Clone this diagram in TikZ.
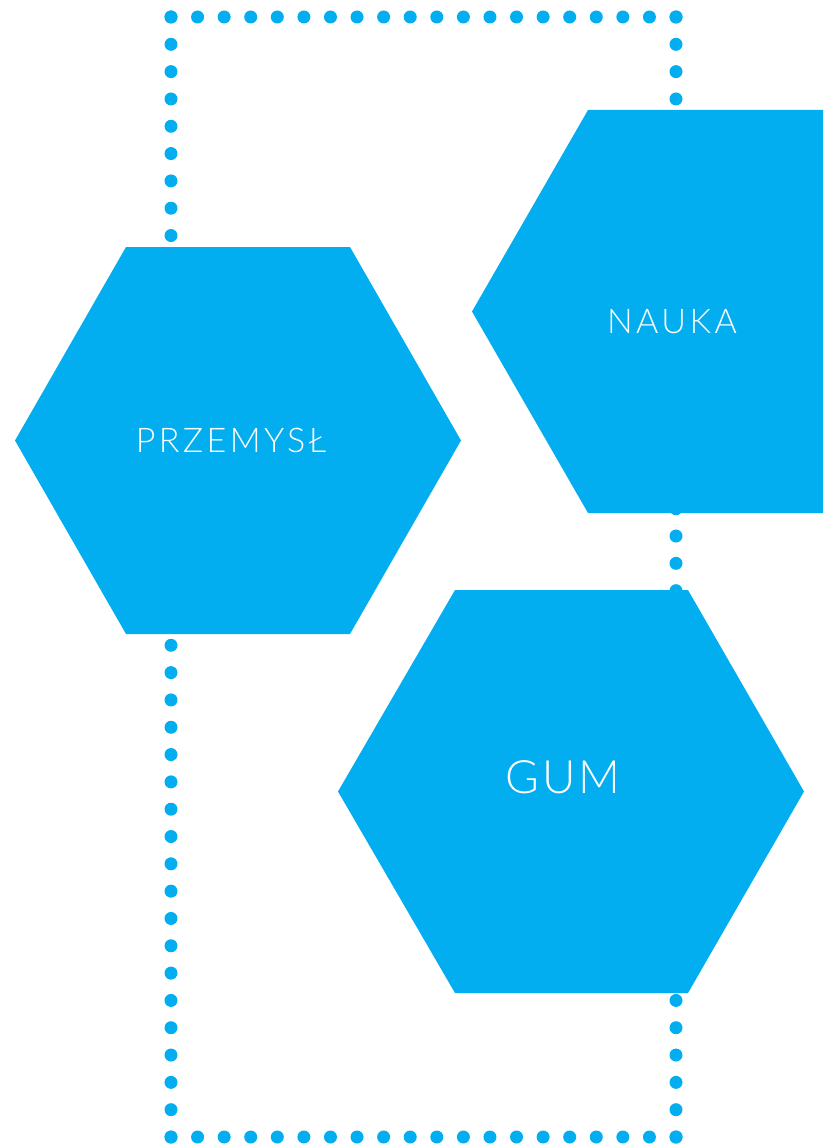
\documentclass[tikz,border=0pt]{standalone}
\usepackage{fontspec}
\newfontfamily\latolight{Lato Light}
\definecolor{hexblue}{RGB}{2,174,239}
\tikzset{
  hexfill/.style={fill=hexblue, draw=none},
  framedot/.style={fill=hexblue},
  hexlabel/.style={text=white, inner sep=0pt, anchor=base},
}
\begin{document}
\begin{tikzpicture}[x=1pt, y=-1pt]
  \useasboundingbox (0,0) rectangle (823,1145);
  \clip (0,0) rectangle (823,1145);

  % dotted frame behind the hexagons
  \pgfmathsetmacro{\hstep}{505/19}
  \pgfmathsetmacro{\vstep}{1120/41}
  \foreach \i in {0,...,19} {
    \fill[framedot] ({171+\i*\hstep},17) circle (6.5);
    \fill[framedot] ({171+\i*\hstep},1137) circle (6.5);
  }
  \foreach \i in {0,...,41} {
    \fill[framedot] (171,{17+\i*\vstep}) circle (6.5);
    \fill[framedot] (676,{17+\i*\vstep}) circle (6.5);
  }

  % hexagons
  \fill[hexfill] (126,247) -- (350,247) -- (461,440.5) -- (350,634) -- (126,634) -- (15,440.5) -- cycle;
  \fill[hexfill] (588,110) -- (823,110) -- (939,311.5) -- (823,513) -- (588,513) -- (472,311.5) -- cycle;
  \fill[hexfill] (455,590) -- (688,590) -- (804,791.5) -- (688,993) -- (455,993) -- (338,791.5) -- cycle;

  % labels
  \node[hexlabel, font=\latolight\fontsize{34}{40}\selectfont\addfontfeature{LetterSpace=10}] (przemysl) at (231,452) {PRZEMYSŁ};
  \node[hexlabel, font=\latolight\fontsize{34}{40}\selectfont\addfontfeature{LetterSpace=10}] (nauka) at (672,333) {NAUKA};
  \node[hexlabel, font=\latolight\fontsize{46}{54}\selectfont\addfontfeature{LetterSpace=6}] (gum) at (563,793) {GUM};
\end{tikzpicture}
\end{document}
